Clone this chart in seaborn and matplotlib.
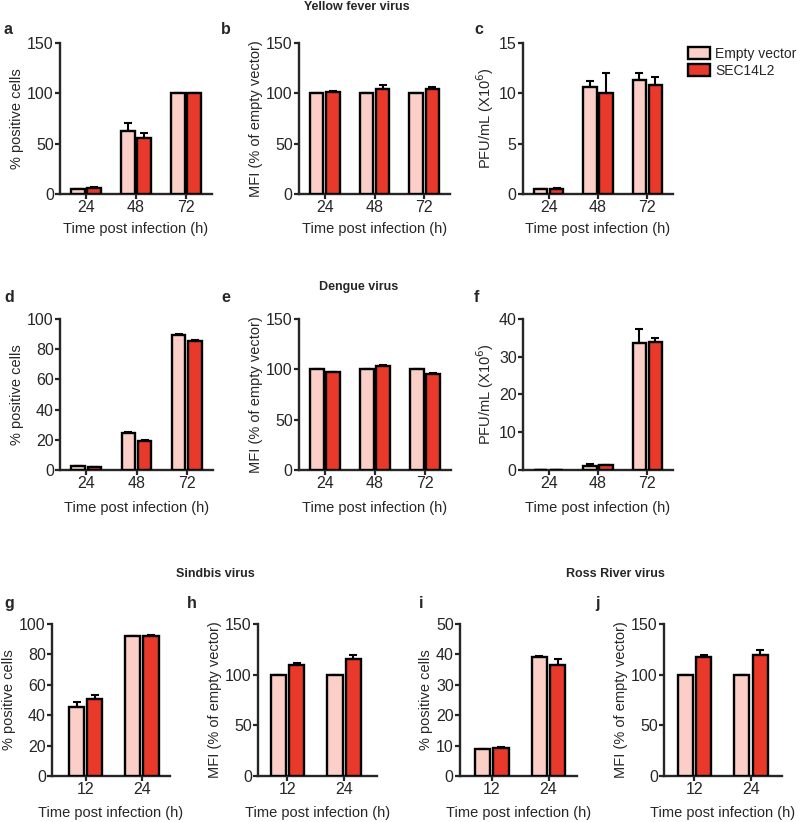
import pandas as pd
import seaborn as sns
import matplotlib.pyplot as plt
from matplotlib.patches import Patch

sns.set_style("ticks")
plt.rcParams["font.family"] = ["Liberation Sans", "DejaVu Sans"]

# Colours and series names
ev_name = "Empty vector"
sec_name = "SEC14L2"
ev_color = "#FBCFC8"
sec_color = "#E8392B"

# Time points
times_flavi = ["24", "48", "72"]
times_alpha = ["12", "24"]

# Yellow fever virus
yf_pos_ev = [5.3, 63, 100]
yf_pos_ev_err = [0, 8, 0]
yf_pos_sec = [5.6, 55.3, 100]
yf_pos_sec_err = [1, 5.3, 0]

yf_mfi_ev = [100, 100, 100]
yf_mfi_ev_err = [0, 0, 0]
yf_mfi_sec = [101, 104.6, 104.6]
yf_mfi_sec_err = [1.5, 4, 2]

yf_pfu_ev = [0.46, 10.6, 11.3]
yf_pfu_ev_err = [0, 0.6, 0.7]
yf_pfu_sec = [0.5, 10.0, 10.8]
yf_pfu_sec_err = [0.1, 2.0, 0.8]

# Dengue virus
dv_pos_ev = [2.6, 24.7, 89.6]
dv_pos_ev_err = [0.2, 0.3, 0.4]
dv_pos_sec = [2.0, 19.4, 85.6]
dv_pos_sec_err = [0.2, 0.3, 0.4]

dv_mfi_ev = [100, 100, 100]
dv_mfi_ev_err = [0, 0, 0]
dv_mfi_sec = [97.0, 103.3, 95.0]
dv_mfi_sec_err = [0.5, 1.5, 1]

dv_pfu_ev = [0.1, 1.06, 33.7]
dv_pfu_ev_err = [0, 0.4, 3.6]
dv_pfu_sec = [0.1, 1.3, 34.0]
dv_pfu_sec_err = [0, 0.1, 0.9]

# Sindbis virus
sv_pos_ev = [45.5, 92.3]
sv_pos_ev_err = [3.1, 0]
sv_pos_sec = [50.8, 92.1]
sv_pos_sec_err = [2.4, 0.6]

sv_mfi_ev = [100, 100]
sv_mfi_ev_err = [0, 0]
sv_mfi_sec = [109.9, 115.8]
sv_mfi_sec_err = [1.6, 4]

# Ross River virus
rr_pos_ev = [8.8, 39.2]
rr_pos_ev_err = [0, 0.2]
rr_pos_sec = [9.3, 36.5]
rr_pos_sec_err = [0.4, 2.1]

rr_mfi_ev = [100, 100]
rr_mfi_ev_err = [0, 0]
rr_mfi_sec = [117.5, 119.8]
rr_mfi_sec_err = [2, 5]

W, H = 800, 822
fig = plt.figure(figsize=(W / 100, H / 100), dpi=100)


def make_ax(left, right, top, bottom):
    return fig.add_axes([left / W, 1 - bottom / H, (right - left) / W, (bottom - top) / H])


def draw_panel(ax, times, ev, ev_err, sec, sec_err, ymax, yticks, ylabel, xlim, xpad=6):
    df = pd.DataFrame({
        "time": times + times,
        "value": ev + sec,
        "group": [ev_name] * len(times) + [sec_name] * len(times),
    })
    sns.barplot(data=df, x="time", y="value", hue="group", order=times,
                hue_order=[ev_name, sec_name],
                palette={ev_name: ev_color, sec_name: sec_color}, saturation=1,
                width=0.65, gap=0.17, edgecolor="black", linewidth=1.7,
                errorbar=None, legend=False, ax=ax, zorder=3)
    # upper error bars only
    for cont, vals, errs in zip(ax.containers, [ev, sec], [ev_err, sec_err]):
        xs = [p.get_x() + p.get_width() / 2 for p in cont.patches]
        ax.errorbar(xs, vals, yerr=[[0] * len(errs), errs], fmt="none",
                    ecolor="black", elinewidth=1.5, capsize=3, capthick=1.5, zorder=2)
    ax.set_ylim(0, ymax)
    ax.set_yticks(yticks)
    ax.set_xlim(*xlim)
    ax.set_ylabel(ylabel, fontsize=10.5, labelpad=2)
    ax.set_xlabel("Time post infection (h)", fontsize=10.5, labelpad=xpad)
    ax.tick_params(axis="both", labelsize=11.5, width=1.6, length=3.5, pad=1)
    for side in ["left", "bottom"]:
        ax.spines[side].set_linewidth(1.7)
    sns.despine(ax=ax)


ylab_pos = "% positive cells"
ylab_mfi = "MFI (% of empty vector)"
ylab_pfu = "PFU/mL (X10$^6$)"

# Row 1: Yellow fever virus
ax_a = make_ax(60, 212, 43, 194)
draw_panel(ax_a, times_flavi, yf_pos_ev, yf_pos_ev_err, yf_pos_sec, yf_pos_sec_err,
           150, [0, 50, 100, 150], ylab_pos, (-0.52, 2.52), 5)
ax_b = make_ax(299, 450, 43, 194)
draw_panel(ax_b, times_flavi, yf_mfi_ev, yf_mfi_ev_err, yf_mfi_sec, yf_mfi_sec_err,
           150, [0, 50, 100, 150], ylab_mfi, (-0.52, 2.52), 5)
ax_c = make_ax(523, 673, 43, 194)
draw_panel(ax_c, times_flavi, yf_pfu_ev, yf_pfu_ev_err, yf_pfu_sec, yf_pfu_sec_err,
           15, [0, 5, 10, 15], ylab_pfu, (-0.52, 2.52), 5)

# Row 2: Dengue virus
ax_d = make_ax(60, 213, 319, 470)
draw_panel(ax_d, times_flavi, dv_pos_ev, dv_pos_ev_err, dv_pos_sec, dv_pos_sec_err,
           100, [0, 20, 40, 60, 80, 100], ylab_pos, (-0.52, 2.52), 7)
ax_e = make_ax(299, 451, 319, 470)
draw_panel(ax_e, times_flavi, dv_mfi_ev, dv_mfi_ev_err, dv_mfi_sec, dv_mfi_sec_err,
           150, [0, 50, 100, 150], ylab_mfi, (-0.52, 2.52), 7)
ax_f = make_ax(523, 673, 319, 470)
draw_panel(ax_f, times_flavi, dv_pfu_ev, dv_pfu_ev_err, dv_pfu_sec, dv_pfu_sec_err,
           40, [0, 10, 20, 30, 40], ylab_pfu, (-0.52, 2.52), 7)

# Row 3: Sindbis and Ross River virus
ax_g = make_ax(52, 170, 624, 776)
draw_panel(ax_g, times_alpha, sv_pos_ev, sv_pos_ev_err, sv_pos_sec, sv_pos_sec_err,
           100, [0, 20, 40, 60, 80, 100], ylab_pos, (-0.6, 1.5), 6)
ax_h = make_ax(258, 377, 624, 776)
draw_panel(ax_h, times_alpha, sv_mfi_ev, sv_mfi_ev_err, sv_mfi_sec, sv_mfi_sec_err,
           150, [0, 50, 100, 150], ylab_mfi, (-0.52, 1.58), 6)
ax_i = make_ax(460, 577, 624, 776)
draw_panel(ax_i, times_alpha, rr_pos_ev, rr_pos_ev_err, rr_pos_sec, rr_pos_sec_err,
           50, [0, 10, 20, 30, 40, 50], ylab_pos, (-0.56, 1.5), 6)
ax_j = make_ax(664, 782, 624, 776)
draw_panel(ax_j, times_alpha, rr_mfi_ev, rr_mfi_ev_err, rr_mfi_sec, rr_mfi_sec_err,
           150, [0, 50, 100, 150], ylab_mfi, (-0.54, 1.55), 6)

# Virus titles
title_kw = dict(fontsize=9, fontweight="bold", ha="center", va="center")
fig.text(357 / W, 1 - 7 / H, "Yellow fever virus", **title_kw)
fig.text(359 / W, 1 - 287 / H, "Dengue virus", **title_kw)
fig.text(215 / W, 1 - 574 / H, "Sindbis virus", **title_kw)
fig.text(615 / W, 1 - 574 / H, "Ross River virus", **title_kw)

# Panel letters
letter_kw = dict(fontsize=11.5, fontweight="bold", ha="left", va="center")
for letter, x, y in [("a", 4, 29), ("b", 221, 29), ("c", 474, 29),
                     ("d", 4, 298), ("e", 221, 298), ("f", 474, 298),
                     ("g", 4, 603), ("h", 187, 603), ("i", 419, 603), ("j", 595, 603)]:
    fig.text(x / W, 1 - y / H, letter, **letter_kw)

# Legend
handles = [Patch(facecolor=ev_color, edgecolor="black", linewidth=1.7, label=ev_name),
           Patch(facecolor=sec_color, edgecolor="black", linewidth=1.7, label=sec_name)]
fig.legend(handles=handles, loc="upper left", bbox_to_anchor=(688 / W, 1 - 47 / H),
           frameon=False, fontsize=10, handlelength=1.55, handleheight=0.9,
           handletextpad=0.4, labelspacing=0.2, borderaxespad=0, borderpad=0)

fig.savefig("out.png", dpi=100)
